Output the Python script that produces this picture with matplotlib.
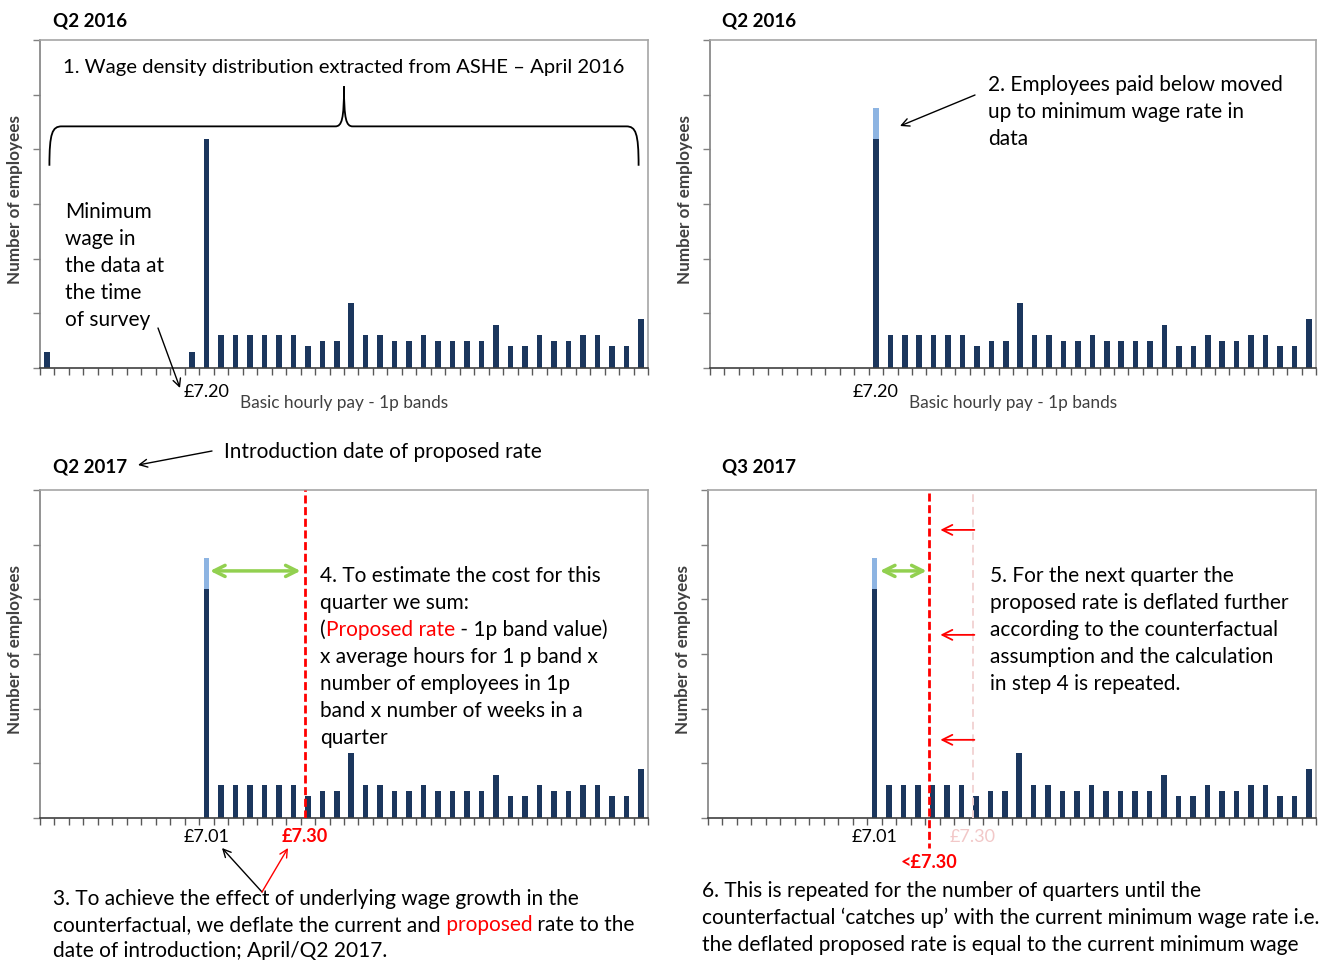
import numpy as np
import matplotlib.pyplot as plt
from matplotlib.path import Path
import matplotlib.patches as mpatches

plt.rcParams['font.family'] = ['Lato', 'DejaVu Sans']

W, H = 1336, 960
NAVY = '#1B365D'
LIGHT = '#8DB4E2'
GREEN = '#92D050'
RED = '#FF0000'
FADED = '#F2D4D4'

# 1p pay bands, one bar per band (index 11 = minimum wage band)
bands = np.arange(42)
ashe_2016 = [0.29, 0, 0, 0, 0, 0, 0, 0, 0, 0, 0.29, 4.18,
             0.60, 0.60, 0.60, 0.60, 0.60, 0.60, 0.40, 0.50, 0.50, 1.19,
             0.60, 0.60, 0.50, 0.50, 0.60, 0.50, 0.50, 0.50, 0.50, 0.79,
             0.40, 0.40, 0.60, 0.50, 0.50, 0.60, 0.60, 0.40, 0.40, 0.90]
min_band = 11
proposed_band_q2 = 17.8      # £7.30 in Q2 2017
deflated_band_q3 = 14.8      # <£7.30 in Q3 2017

ashe = np.array(ashe_2016)
adjusted = np.where(bands < min_band, 0, ashe)
moved_up = np.where(bands == min_band, ashe[bands < min_band].sum(), 0)

TXT = 15


def fp(x, y):
    # reference pixel (top-left origin) -> figure fraction
    return (x / W, 1 - y / H)


fig = plt.figure(figsize=(W / 100, H / 100), dpi=100)


def make_axes(left_px, top_px, width_px=608):
    ax = fig.add_axes([left_px / W, 1 - (top_px + 328) / H, width_px / W, 328 / H])
    ax.set_xlim(-0.5, 41.5)
    ax.set_ylim(0, 6)
    ax.set_xticks(np.arange(-0.5, 42, 1))
    ax.set_xticklabels([])
    ax.set_yticks(range(7))
    ax.set_yticklabels([])
    ax.tick_params(axis='x', direction='out', length=5, width=1, color='#595959')
    ax.tick_params(axis='y', direction='out', length=5, width=1, color='#808080')
    for s in ['top', 'right']:
        ax.spines[s].set_color('#A6A6A6')
    ax.spines['left'].set_color('#808080')
    ax.spines['bottom'].set_color('#404040')
    for s in ax.spines.values():
        s.set_linewidth(1.2)
    ax.set_ylabel('Number of employees', fontsize=12.3, fontweight='bold', color='#404040')
    ax.yaxis.set_label_coords(-17 / width_px, 0.515)
    return ax


def tick_label(ax, x, text, dy_px, color='black', weight='normal'):
    ax.text(x, -dy_px / 328, text, transform=ax.get_xaxis_transform(), ha='center',
            va='center', fontsize=13, color=color, fontweight=weight)


def xlabel(ax):
    ax.text(0.5, -35 / 328, 'Basic hourly pay - 1p bands', transform=ax.transAxes,
            ha='center', va='center', fontsize=12.4, color='#404040')


# ---- panel 1: raw ASHE distribution
ax1 = make_axes(40, 40)
ax1.bar(bands, ashe, width=0.38, color=NAVY, zorder=2)
tick_label(ax1, min_band, '£7.20', 24)
xlabel(ax1)
brace = Path([(0.15, 3.70), (0.15, 4.30), (0.35, 4.42), (1.0, 4.42),
              (19.9, 4.42),
              (20.35, 4.42), (20.5, 4.55), (20.5, 5.15),
              (20.5, 4.55), (20.65, 4.42), (21.1, 4.42),
              (40.0, 4.42),
              (40.65, 4.42), (40.85, 4.30), (40.85, 3.70)],
             [Path.MOVETO, Path.CURVE4, Path.CURVE4, Path.CURVE4,
              Path.LINETO,
              Path.CURVE4, Path.CURVE4, Path.CURVE4,
              Path.CURVE4, Path.CURVE4, Path.CURVE4,
              Path.LINETO,
              Path.CURVE4, Path.CURVE4, Path.CURVE4])
ax1.add_patch(mpatches.PathPatch(brace, fill=False, lw=1.3, color='black', zorder=3))

# ---- panel 2: employees below minimum moved up
ax2 = make_axes(710, 40, 606)
ax2.bar(bands, adjusted, width=0.38, color=NAVY, zorder=2)
ax2.bar(bands, moved_up, bottom=adjusted, width=0.38, color=LIGHT, zorder=2)
tick_label(ax2, min_band, '£7.20', 24)
xlabel(ax2)

# ---- panel 3: Q2 2017
ax3 = make_axes(40, 490)
ax3.bar(bands, adjusted, width=0.38, color=NAVY, zorder=2)
ax3.bar(bands, moved_up, bottom=adjusted, width=0.38, color=LIGHT, zorder=2)
ax3.axvline(proposed_band_q2, color=RED, lw=2, ls=(0, (2.9, 1.3)), zorder=4)
ax3.annotate('', xy=(proposed_band_q2 - 0.3, 4.52), xytext=(min_band + 0.25, 4.52),
             arrowprops=dict(arrowstyle='<->', color=GREEN, lw=2.5, mutation_scale=20,
                             shrinkA=0, shrinkB=0))
tick_label(ax3, min_band, '£7.01', 19)
tick_label(ax3, proposed_band_q2, '£7.30', 19, color=RED, weight='bold')

# ---- panel 4: Q3 2017
ax4 = make_axes(708, 490)
ax4.bar(bands, adjusted, width=0.38, color=NAVY, zorder=2)
ax4.bar(bands, moved_up, bottom=adjusted, width=0.38, color=LIGHT, zorder=2)
ax4.plot([proposed_band_q2] * 2, [0, 6], color=FADED, lw=1.4, ls=(0, (4, 2.5)), zorder=3)
ax4.plot([deflated_band_q3] * 2, [5.95, -0.55], color=RED, lw=2, ls=(0, (2.9, 1.3)),
         zorder=4, clip_on=False)
ax4.annotate('', xy=(deflated_band_q3 - 0.2, 4.52), xytext=(min_band + 0.38, 4.52),
             arrowprops=dict(arrowstyle='<->', color=GREEN, lw=2.5, mutation_scale=20,
                             shrinkA=0, shrinkB=0))
for yv in [5.27, 3.35, 1.43]:
    ax4.annotate('', xy=(deflated_band_q3 + 0.75, yv), xytext=(proposed_band_q2 + 0.1, yv),
                 arrowprops=dict(arrowstyle='->', color=RED, lw=1.3, mutation_scale=18,
                                 shrinkA=0, shrinkB=0))
tick_label(ax4, min_band, '£7.01', 19)
tick_label(ax4, proposed_band_q2, '£7.30', 19, color='#F2C8C8')
tick_label(ax4, deflated_band_q3, '<£7.30', 45, color=RED, weight='bold')

# ---- overlay for the notes, drawn above every panel
ov = fig.add_axes([0, 0, 1, 1])
ov.set_xlim(0, 1)
ov.set_ylim(0, 1)
ov.axis('off')
ov.set_zorder(10)


def para(x_px, y_px, lines, dy=27, size=TXT):
    # each line is a list of (text, colour) pieces drawn one after another
    for i, pieces in enumerate(lines):
        prev = None
        for text, col in pieces:
            if prev is None:
                prev = ov.text(*fp(x_px, y_px + 2 + i * dy), text, ha='left', va='center',
                               fontsize=size, color=col)
            else:
                prev = ov.annotate(text, xy=(1, 0), xycoords=prev, ha='left',
                                   va='bottom', fontsize=size, color=col,
                                   annotation_clip=False)


def arrow(p_from, p_to, color='black', lw=1.0, style='->', ms=14):
    ov.annotate('', xy=fp(*p_to), xytext=fp(*p_from), annotation_clip=False,
                arrowprops=dict(arrowstyle=style, color=color, lw=lw,
                                mutation_scale=ms, shrinkA=0, shrinkB=0))


def black(*lines):
    return [[(l, 'black')] for l in lines]


# ---- titles
for x, y, t in [(53, 21, 'Q2 2016'), (722, 21, 'Q2 2016'), (53, 467, 'Q2 2017'), (722, 467, 'Q3 2017')]:
    ov.text(*fp(x, y), t, ha='left', va='center', fontsize=13.5, fontweight='bold')

# ---- explanatory notes
para(63, 66, black('1. Wage density distribution extracted from ASHE – April 2016'), size=14.6)
para(65, 210, black('Minimum', 'wage in', 'the data at', 'the time', 'of survey'))
arrow((158, 328), (180, 388))
para(988, 83, black('2. Employees paid below moved', 'up to minimum wage rate in', 'data'), dy=27)
arrow((975, 95), (900, 126))
para(224, 450, black('Introduction date of proposed rate'))
arrow((212, 451), (138, 465))
para(320, 574, [[('4. To estimate the cost for this', 'black')],
                [('quarter we sum:', 'black')],
                [('(', 'black'), ('Proposed rate', RED), (' - 1p band value)', 'black')],
                [('x average hours for 1 p band x', 'black')],
                [('number of employees in 1p', 'black')],
                [('band x number of weeks in a', 'black')],
                [('quarter', 'black')]])
para(53, 897, [[('3. To achieve the effect of underlying wage growth in the', 'black')],
               [('counterfactual, we deflate the current and', 'black'), (' proposed', RED),
                (' rate to the', 'black')],
               [('date of introduction; April/Q2 2017.', 'black')]], dy=26)
arrow((262, 892), (222, 848))
arrow((262, 892), (288, 848), color=RED)
para(990, 574, black('5. For the next quarter the', 'proposed rate is deflated further',
                     'according to the counterfactual', 'assumption and the calculation',
                     'in step 4 is repeated.'))
para(702, 889, black('6. This is repeated for the number of quarters until the',
                     'counterfactual ‘catches up’ with the current minimum wage rate i.e.',
                     'the deflated proposed rate is equal to the current minimum wage'))

fig.savefig('out.png', dpi=100)
